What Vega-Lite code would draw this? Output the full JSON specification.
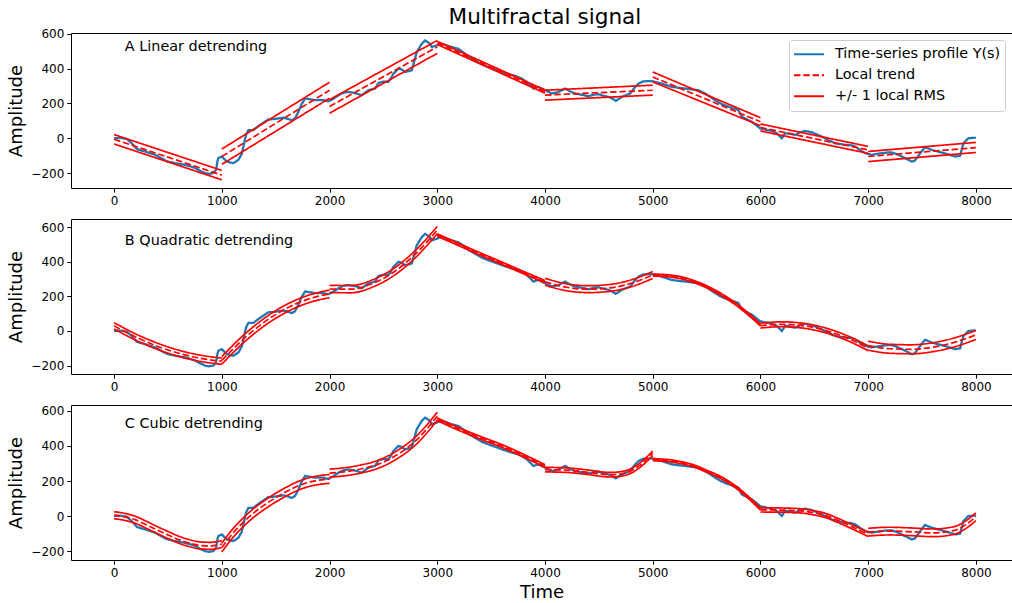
{
  "$schema": "https://vega.github.io/schema/vega-lite/v6.json",
  "padding": {"left": 7, "top": 6, "right": 0, "bottom": 0},
  "title": {"text": "Multifractal signal", "fontSize": 21.6, "fontWeight": "normal", "font": "DejaVu Sans", "color": "black", "anchor": "middle", "offset": -1, "dx": 35},
  "spacing": 31,
  "bounds": "flush",
  "resolve": {"scale": {"x": "independent", "y": "independent", "color": "independent", "strokeDash": "independent"}},
  "datasets": {
    "profile": [
      {"t":0,"y":0},{"t":60,"y":2},{"t":118,"y":-4},{"t":164,"y":-29},{"t":211,"y":-62},{"t":250,"y":-70},{"t":288,"y":-76},{"t":330,"y":-85},{"t":381,"y":-95},{"t":430,"y":-112},{"t":489,"y":-132},{"t":530,"y":-138},{"t":566,"y":-143},{"t":610,"y":-148},{"t":659,"y":-153},{"t":700,"y":-160},{"t":752,"y":-171},{"t":800,"y":-188},{"t":845,"y":-200},{"t":880,"y":-205},{"t":922,"y":-200},{"t":947,"y":-181},{"t":960,"y":-130},{"t":968,"y":-114},{"t":1000,"y":-105},{"t":1046,"y":-134},{"t":1080,"y":-140},{"t":1108,"y":-143},{"t":1154,"y":-124},{"t":1185,"y":-90},{"t":1200,"y":-48},{"t":1225,"y":20},{"t":1247,"y":47},{"t":1293,"y":47},{"t":1320,"y":60},{"t":1355,"y":76},{"t":1400,"y":95},{"t":1432,"y":108},{"t":1480,"y":110},{"t":1525,"y":114},{"t":1570,"y":118},{"t":1603,"y":114},{"t":1650,"y":103},{"t":1680,"y":115},{"t":1711,"y":152},{"t":1740,"y":195},{"t":1773,"y":229},{"t":1820,"y":224},{"t":1866,"y":219},{"t":1943,"y":219},{"t":1989,"y":212},{"t":2030,"y":225},{"t":2082,"y":247},{"t":2130,"y":262},{"t":2175,"y":266},{"t":2220,"y":262},{"t":2253,"y":257},{"t":2299,"y":247},{"t":2330,"y":262},{"t":2361,"y":276},{"t":2423,"y":286},{"t":2454,"y":318},{"t":2500,"y":326},{"t":2546,"y":324},{"t":2570,"y":345},{"t":2593,"y":371},{"t":2639,"y":400},{"t":2670,"y":395},{"t":2701,"y":381},{"t":2740,"y":386},{"t":2763,"y":390},{"t":2785,"y":440},{"t":2809,"y":495},{"t":2856,"y":543},{"t":2887,"y":562},{"t":2910,"y":553},{"t":2933,"y":543},{"t":2949,"y":524},{"t":2975,"y":530},{"t":2995,"y":533},{"t":3030,"y":545},{"t":3080,"y":535},{"t":3135,"y":524},{"t":3196,"y":514},{"t":3258,"y":486},{"t":3300,"y":465},{"t":3351,"y":447},{"t":3410,"y":425},{"t":3475,"y":409},{"t":3540,"y":395},{"t":3599,"y":381},{"t":3680,"y":365},{"t":3730,"y":357},{"t":3784,"y":343},{"t":3831,"y":324},{"t":3870,"y":300},{"t":3892,"y":286},{"t":3939,"y":295},{"t":4001,"y":276},{"t":4063,"y":257},{"t":4125,"y":266},{"t":4187,"y":286},{"t":4230,"y":270},{"t":4279,"y":257},{"t":4340,"y":250},{"t":4403,"y":242},{"t":4450,"y":250},{"t":4496,"y":253},{"t":4540,"y":245},{"t":4589,"y":238},{"t":4625,"y":228},{"t":4657,"y":215},{"t":4690,"y":228},{"t":4713,"y":238},{"t":4790,"y":257},{"t":4837,"y":295},{"t":4870,"y":315},{"t":4913,"y":327},{"t":4991,"y":329},{"t":5084,"y":314},{"t":5177,"y":295},{"t":5240,"y":290},{"t":5300,"y":286},{"t":5424,"y":276},{"t":5486,"y":257},{"t":5530,"y":240},{"t":5579,"y":219},{"t":5630,"y":200},{"t":5687,"y":185},{"t":5750,"y":172},{"t":5795,"y":162},{"t":5826,"y":124},{"t":5870,"y":110},{"t":5919,"y":95},{"t":5960,"y":75},{"t":5996,"y":57},{"t":6043,"y":50},{"t":6105,"y":42},{"t":6150,"y":30},{"t":6198,"y":0},{"t":6229,"y":29},{"t":6280,"y":25},{"t":6322,"y":19},{"t":6370,"y":35},{"t":6415,"y":42},{"t":6477,"y":34},{"t":6530,"y":20},{"t":6570,"y":9},{"t":6630,"y":-10},{"t":6694,"y":-29},{"t":6787,"y":-38},{"t":6840,"y":-40},{"t":6880,"y":-48},{"t":6930,"y":-70},{"t":6973,"y":-86},{"t":7033,"y":-95},{"t":7080,"y":-90},{"t":7126,"y":-86},{"t":7180,"y":-82},{"t":7219,"y":-82},{"t":7260,"y":-90},{"t":7312,"y":-105},{"t":7360,"y":-120},{"t":7405,"y":-134},{"t":7430,"y":-130},{"t":7451,"y":-114},{"t":7490,"y":-80},{"t":7528,"y":-51},{"t":7590,"y":-67},{"t":7683,"y":-82},{"t":7740,"y":-92},{"t":7807,"y":-105},{"t":7853,"y":-101},{"t":7884,"y":-29},{"t":7930,"y":0},{"t":7992,"y":3},{"t":8000,"y":4}
    ],
    "fitsA": [
      {"g":1,"t":0,"lo":-33,"mid":-6,"hi":21},{"g":1,"t":1000,"lo":-239,"mid":-212,"hi":-185},
      {"g":2,"t":1000,"lo":-150,"mid":-105,"hi":-62},{"g":2,"t":2000,"lo":230,"mid":276,"hi":322},
      {"g":3,"t":2000,"lo":144,"mid":183,"hi":222},{"g":3,"t":3000,"lo":488,"mid":525,"hi":562},
      {"g":4,"t":3000,"lo":539,"mid":548,"hi":557},{"g":4,"t":4000,"lo":259,"mid":268,"hi":277},
      {"g":5,"t":4000,"lo":219,"mid":248,"hi":276},{"g":5,"t":5000,"lo":248,"mid":276,"hi":305},
      {"g":6,"t":5000,"lo":324,"mid":352,"hi":381},{"g":6,"t":6000,"lo":72,"mid":95,"hi":118},
      {"g":7,"t":6000,"lo":42,"mid":62,"hi":82},{"g":7,"t":7000,"lo":-87,"mid":-67,"hi":-47},
      {"g":8,"t":7000,"lo":-134,"mid":-105,"hi":-76},{"g":8,"t":8000,"lo":-82,"mid":-54,"hi":-24}
    ],
    "fitsB": [
      {"g":1,"t":0,"lo":12,"mid":30,"hi":48},{"g":1,"t":200,"lo":-53,"mid":-35,"hi":-17},{"g":1,"t":400,"lo":-106,"mid":-88,"hi":-70},{"g":1,"t":600,"lo":-147,"mid":-129,"hi":-111},{"g":1,"t":800,"lo":-176,"mid":-158,"hi":-140},{"g":1,"t":1000,"lo":-193,"mid":-175,"hi":-157},
      {"g":2,"t":1000,"lo":-192,"mid":-170,"hi":-148},{"g":2,"t":1200,"lo":-69,"mid":-47,"hi":-25},{"g":2,"t":1400,"lo":32,"mid":54,"hi":76},{"g":2,"t":1600,"lo":109,"mid":131,"hi":153},{"g":2,"t":1800,"lo":162,"mid":184,"hi":206},{"g":2,"t":2000,"lo":193,"mid":215,"hi":237},
      {"g":3,"t":2000,"lo":222,"mid":243,"hi":264},{"g":3,"t":2200,"lo":221,"mid":242,"hi":263},{"g":3,"t":2400,"lo":254,"mid":275,"hi":296},{"g":3,"t":2600,"lo":322,"mid":343,"hi":364},{"g":3,"t":2800,"lo":426,"mid":447,"hi":468},{"g":3,"t":3000,"lo":563,"mid":584,"hi":605},
      {"g":4,"t":3000,"lo":548,"mid":555,"hi":562},{"g":4,"t":3200,"lo":493,"mid":500,"hi":507},{"g":4,"t":3400,"lo":438,"mid":445,"hi":452},{"g":4,"t":3600,"lo":385,"mid":392,"hi":399},{"g":4,"t":3800,"lo":331,"mid":338,"hi":345},{"g":4,"t":4000,"lo":278,"mid":285,"hi":292},
      {"g":5,"t":4000,"lo":265,"mid":285,"hi":305},{"g":5,"t":4200,"lo":233,"mid":253,"hi":273},{"g":5,"t":4400,"lo":222,"mid":242,"hi":262},{"g":5,"t":4600,"lo":229,"mid":249,"hi":269},{"g":5,"t":4800,"lo":256,"mid":276,"hi":296},{"g":5,"t":5000,"lo":304,"mid":324,"hi":344},
      {"g":6,"t":5000,"lo":318,"mid":324,"hi":330},{"g":6,"t":5200,"lo":309,"mid":315,"hi":321},{"g":6,"t":5400,"lo":276,"mid":282,"hi":288},{"g":6,"t":5600,"lo":218,"mid":224,"hi":230},{"g":6,"t":5800,"lo":136,"mid":142,"hi":148},{"g":6,"t":6000,"lo":29,"mid":35,"hi":41},
      {"g":7,"t":6000,"lo":17,"mid":31,"hi":45},{"g":7,"t":6200,"lo":25,"mid":39,"hi":53},{"g":7,"t":6400,"lo":16,"mid":30,"hi":44},{"g":7,"t":6600,"lo":-10,"mid":4,"hi":18},{"g":7,"t":6800,"lo":-54,"mid":-40,"hi":-26},{"g":7,"t":7000,"lo":-114,"mid":-100,"hi":-86},
      {"g":8,"t":7000,"lo":-111,"mid":-85,"hi":-59},{"g":8,"t":7200,"lo":-129,"mid":-103,"hi":-77},{"g":8,"t":7400,"lo":-132,"mid":-106,"hi":-80},{"g":8,"t":7600,"lo":-120,"mid":-94,"hi":-68},{"g":8,"t":7800,"lo":-92,"mid":-66,"hi":-40},{"g":8,"t":8000,"lo":-49,"mid":-23,"hi":3}
    ],
    "fitsC": [
      {"g":1,"t":0,"lo":-15,"mid":5,"hi":25},{"g":1,"t":100,"lo":-25,"mid":-5,"hi":15},{"g":1,"t":200,"lo":-42,"mid":-22,"hi":-2},{"g":1,"t":300,"lo":-70,"mid":-50,"hi":-30},{"g":1,"t":400,"lo":-100,"mid":-80,"hi":-60},{"g":1,"t":500,"lo":-128,"mid":-108,"hi":-88},{"g":1,"t":600,"lo":-155,"mid":-135,"hi":-115},{"g":1,"t":700,"lo":-175,"mid":-155,"hi":-135},{"g":1,"t":800,"lo":-188,"mid":-168,"hi":-148},{"g":1,"t":900,"lo":-190,"mid":-170,"hi":-150},{"g":1,"t":1000,"lo":-180,"mid":-160,"hi":-140},
      {"g":2,"t":1000,"lo":-205,"mid":-180,"hi":-155},{"g":2,"t":1100,"lo":-125,"mid":-100,"hi":-75},{"g":2,"t":1200,"lo":-60,"mid":-35,"hi":-10},{"g":2,"t":1300,"lo":-5,"mid":20,"hi":45},{"g":2,"t":1400,"lo":40,"mid":65,"hi":90},{"g":2,"t":1500,"lo":80,"mid":105,"hi":130},{"g":2,"t":1600,"lo":115,"mid":140,"hi":165},{"g":2,"t":1700,"lo":145,"mid":170,"hi":195},{"g":2,"t":1800,"lo":167,"mid":192,"hi":217},{"g":2,"t":1900,"lo":180,"mid":205,"hi":230},{"g":2,"t":2000,"lo":187,"mid":212,"hi":237},
      {"g":3,"t":2000,"lo":222,"mid":245,"hi":268},{"g":3,"t":2100,"lo":227,"mid":250,"hi":273},{"g":3,"t":2200,"lo":235,"mid":258,"hi":281},{"g":3,"t":2300,"lo":247,"mid":270,"hi":293},{"g":3,"t":2400,"lo":262,"mid":285,"hi":308},{"g":3,"t":2500,"lo":285,"mid":308,"hi":331},{"g":3,"t":2600,"lo":317,"mid":340,"hi":363},{"g":3,"t":2700,"lo":357,"mid":380,"hi":403},{"g":3,"t":2800,"lo":407,"mid":430,"hi":453},{"g":3,"t":2900,"lo":472,"mid":495,"hi":518},{"g":3,"t":3000,"lo":547,"mid":570,"hi":593},
      {"g":4,"t":3000,"lo":544,"mid":552,"hi":560},{"g":4,"t":3200,"lo":489,"mid":497,"hi":505},{"g":4,"t":3400,"lo":439,"mid":447,"hi":455},{"g":4,"t":3600,"lo":392,"mid":400,"hi":408},{"g":4,"t":3800,"lo":337,"mid":345,"hi":353},{"g":4,"t":4000,"lo":277,"mid":285,"hi":293},
      {"g":5,"t":4000,"lo":252,"mid":265,"hi":278},{"g":5,"t":4200,"lo":249,"mid":262,"hi":275},{"g":5,"t":4400,"lo":237,"mid":250,"hi":263},{"g":5,"t":4600,"lo":223,"mid":236,"hi":249},{"g":5,"t":4700,"lo":227,"mid":240,"hi":253},{"g":5,"t":4800,"lo":245,"mid":258,"hi":271},{"g":5,"t":4900,"lo":287,"mid":300,"hi":313},{"g":5,"t":5000,"lo":345,"mid":358,"hi":371},
      {"g":6,"t":5000,"lo":316,"mid":322,"hi":328},{"g":6,"t":5200,"lo":306,"mid":312,"hi":318},{"g":6,"t":5400,"lo":276,"mid":282,"hi":288},{"g":6,"t":5500,"lo":250,"mid":256,"hi":262},{"g":6,"t":5600,"lo":224,"mid":230,"hi":236},{"g":6,"t":5800,"lo":146,"mid":152,"hi":158},{"g":6,"t":6000,"lo":34,"mid":40,"hi":46},
      {"g":7,"t":6000,"lo":23,"mid":35,"hi":47},{"g":7,"t":6200,"lo":22,"mid":34,"hi":46},{"g":7,"t":6400,"lo":16,"mid":28,"hi":40},{"g":7,"t":6500,"lo":6,"mid":18,"hi":30},{"g":7,"t":6600,"lo":-8,"mid":4,"hi":16},{"g":7,"t":6700,"lo":-32,"mid":-20,"hi":-8},{"g":7,"t":6800,"lo":-59,"mid":-47,"hi":-35},{"g":7,"t":6900,"lo":-88,"mid":-76,"hi":-64},{"g":7,"t":7000,"lo":-117,"mid":-105,"hi":-93},
      {"g":8,"t":7000,"lo":-114,"mid":-92,"hi":-70},{"g":8,"t":7200,"lo":-108,"mid":-86,"hi":-64},{"g":8,"t":7400,"lo":-112,"mid":-90,"hi":-68},{"g":8,"t":7600,"lo":-118,"mid":-96,"hi":-74},{"g":8,"t":7800,"lo":-104,"mid":-82,"hi":-60},{"g":8,"t":7900,"lo":-74,"mid":-52,"hi":-30},{"g":8,"t":8000,"lo":-26,"mid":-4,"hi":18}
    ]
  },
  "vconcat": [
    {
      "width": 941, "height": 155,
      "layer": [
        {
          "data": {"name": "profile"},
          "transform": [{"fold": ["y"], "as": ["key", "val"]}],
          "mark": {"type": "line", "strokeWidth": 2.3},
          "encoding": {
            "x": {"field": "t", "type": "quantitative", "scale": {"domain": [-400, 8335], "nice": false, "zero": false}, "axis": {"values": [0,1000,2000,3000,4000,5000,6000,7000,8000], "tickCount": 20, "format": "d", "title": null}},
            "y": {"field": "val", "type": "quantitative", "scale": {"domain": [-286, 605], "nice": false, "zero": false}, "axis": {"values": [-200,0,200,400,600], "tickCount": 10, "title": "Amplitude"}},
            "color": {"field": "key", "type": "nominal", "scale": {"domain": ["y","mid","hi","lo"], "range": ["#1f77b4","#ff0000","#ff0000","#ff0000"]},
              "legend": {"title": null, "orient": "top-right", "offset": 7, "values": ["y","mid","hi"], "labelExpr": "datum.value == 'y' ? 'Time-series profile Y(s)' : datum.value == 'mid' ? 'Local trend' : '+/- 1 local RMS'", "symbolType": "stroke", "symbolSize": 900, "symbolStrokeWidth": 2, "labelFontSize": 14.4, "labelFont": "DejaVu Sans", "labelColor": "black", "labelOffset": 10, "strokeColor": "#cccccc", "fillColor": "white", "padding": 4, "cornerRadius": 3, "rowPadding": 0, "clipHeight": 20.5, "labelLimit": 400}},
            "strokeDash": {"field": "key", "type": "nominal", "scale": {"domain": ["y","mid","hi","lo"], "range": [[1,0],[6.5,2.8],[1,0],[1,0]]},
              "legend": {"title": null, "orient": "top-right", "offset": 7, "values": ["y","mid","hi"], "labelExpr": "datum.value == 'y' ? 'Time-series profile Y(s)' : datum.value == 'mid' ? 'Local trend' : '+/- 1 local RMS'", "symbolType": "stroke", "symbolSize": 900, "symbolStrokeWidth": 2, "labelFontSize": 14.4, "labelFont": "DejaVu Sans", "labelColor": "black", "labelOffset": 10, "strokeColor": "#cccccc", "fillColor": "white", "padding": 4, "cornerRadius": 3, "rowPadding": 0, "clipHeight": 20.5, "labelLimit": 400}}
          }
        },
        {
          "data": {"name": "fitsA"},
          "transform": [{"fold": ["hi", "mid", "lo"], "as": ["key", "val"]}],
          "mark": {"type": "line", "strokeWidth": 1.7},
          "encoding": {
            "x": {"field": "t", "type": "quantitative"},
            "y": {"field": "val", "type": "quantitative"},
            "color": {"field": "key", "type": "nominal"},
            "strokeDash": {"field": "key", "type": "nominal"},
            "detail": {"field": "g", "type": "nominal"}
          }
        },
        {
          "data": {"values": [{}]},
          "mark": {"type": "text", "align": "left", "baseline": "alphabetic", "fontSize": 14.4, "font": "DejaVu Sans", "color": "black"},
          "encoding": {"x": {"datum": 100}, "y": {"datum": 500}, "text": {"value": "A Linear detrending"}}
        }
      ]
    },
    {
      "width": 941, "height": 155,
      "layer": [
        {
          "data": {"name": "profile"},
          "transform": [{"fold": ["y"], "as": ["key", "val"]}],
          "mark": {"type": "line", "strokeWidth": 2.3},
          "encoding": {
            "x": {"field": "t", "type": "quantitative", "scale": {"domain": [-400, 8335], "nice": false, "zero": false}, "axis": {"values": [0,1000,2000,3000,4000,5000,6000,7000,8000], "tickCount": 20, "format": "d", "title": null}},
            "y": {"field": "val", "type": "quantitative", "scale": {"domain": [-249, 648], "nice": false, "zero": false}, "axis": {"values": [-200,0,200,400,600], "tickCount": 10, "title": "Amplitude"}},
            "color": {"field": "key", "type": "nominal", "scale": {"domain": ["y","mid","hi","lo"], "range": ["#1f77b4","#ff0000","#ff0000","#ff0000"]}, "legend": null},
            "strokeDash": {"field": "key", "type": "nominal", "scale": {"domain": ["y","mid","hi","lo"], "range": [[1,0],[6.5,2.8],[1,0],[1,0]]}, "legend": null}
          }
        },
        {
          "data": {"name": "fitsB"},
          "transform": [{"fold": ["hi", "mid", "lo"], "as": ["key", "val"]}],
          "mark": {"type": "line", "strokeWidth": 1.7, "interpolate": "monotone"},
          "encoding": {
            "x": {"field": "t", "type": "quantitative"},
            "y": {"field": "val", "type": "quantitative"},
            "color": {"field": "key", "type": "nominal"},
            "strokeDash": {"field": "key", "type": "nominal"},
            "detail": {"field": "g", "type": "nominal"}
          }
        },
        {
          "data": {"values": [{}]},
          "mark": {"type": "text", "align": "left", "baseline": "alphabetic", "fontSize": 14.4, "font": "DejaVu Sans", "color": "black"},
          "encoding": {"x": {"datum": 100}, "y": {"datum": 500}, "text": {"value": "B Quadratic detrending"}}
        }
      ]
    },
    {
      "width": 941, "height": 155,
      "layer": [
        {
          "data": {"name": "profile"},
          "transform": [{"fold": ["y"], "as": ["key", "val"]}],
          "mark": {"type": "line", "strokeWidth": 2.3},
          "encoding": {
            "x": {"field": "t", "type": "quantitative", "scale": {"domain": [-400, 8335], "nice": false, "zero": false}, "axis": {"values": [0,1000,2000,3000,4000,5000,6000,7000,8000], "tickCount": 20, "format": "d", "title": "Time", "titlePadding": 5}},
            "y": {"field": "val", "type": "quantitative", "scale": {"domain": [-251, 634], "nice": false, "zero": false}, "axis": {"values": [-200,0,200,400,600], "tickCount": 10, "title": "Amplitude"}},
            "color": {"field": "key", "type": "nominal", "scale": {"domain": ["y","mid","hi","lo"], "range": ["#1f77b4","#ff0000","#ff0000","#ff0000"]}, "legend": null},
            "strokeDash": {"field": "key", "type": "nominal", "scale": {"domain": ["y","mid","hi","lo"], "range": [[1,0],[6.5,2.8],[1,0],[1,0]]}, "legend": null}
          }
        },
        {
          "data": {"name": "fitsC"},
          "transform": [{"fold": ["hi", "mid", "lo"], "as": ["key", "val"]}],
          "mark": {"type": "line", "strokeWidth": 1.7, "interpolate": "monotone"},
          "encoding": {
            "x": {"field": "t", "type": "quantitative"},
            "y": {"field": "val", "type": "quantitative"},
            "color": {"field": "key", "type": "nominal"},
            "strokeDash": {"field": "key", "type": "nominal"},
            "detail": {"field": "g", "type": "nominal"}
          }
        },
        {
          "data": {"values": [{}]},
          "mark": {"type": "text", "align": "left", "baseline": "alphabetic", "fontSize": 14.4, "font": "DejaVu Sans", "color": "black"},
          "encoding": {"x": {"datum": 100}, "y": {"datum": 500}, "text": {"value": "C Cubic detrending"}}
        }
      ]
    }
  ],
  "config": {
    "font": "DejaVu Sans",
    "view": {"stroke": "black", "strokeWidth": 1},
    "axis": {"grid": false, "domain": false, "tickColor": "black", "tickSize": 4.2, "tickWidth": 1, "labelFontSize": 12, "labelColor": "black", "labelFont": "DejaVu Sans", "titleFontSize": 18, "titleFontWeight": "normal", "titleColor": "black", "titleFont": "DejaVu Sans", "labelPadding": 3, "labelFlush": false, "labelOverlap": false},
    "axisY": {"titlePadding": 5},
    "axisX": {"titlePadding": 3}
  }
}
